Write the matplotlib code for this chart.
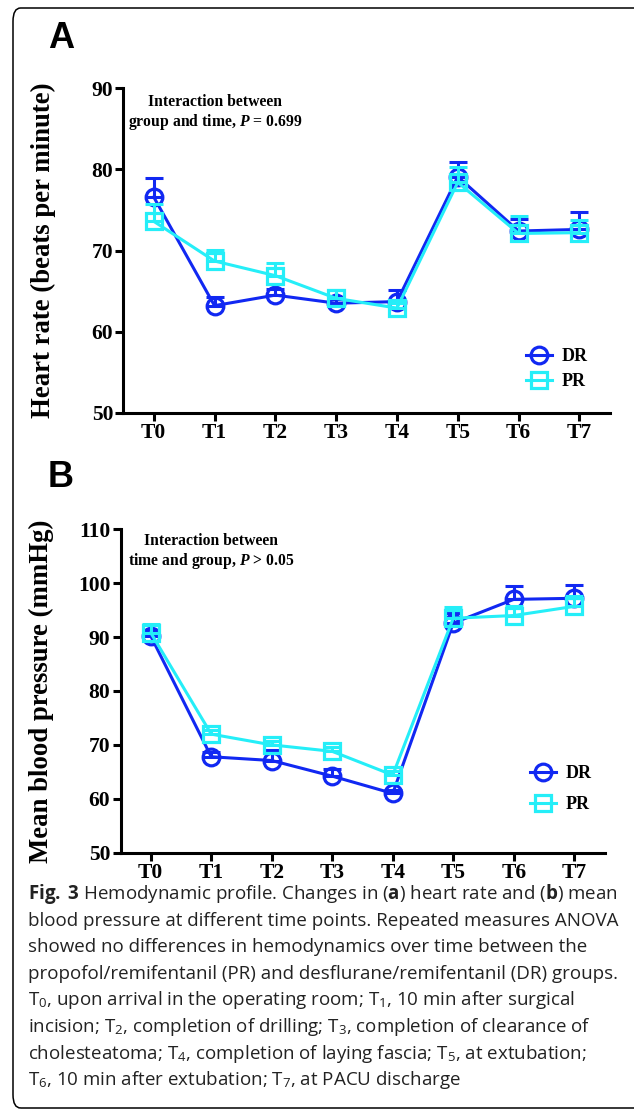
import matplotlib
matplotlib.use("Agg")
import matplotlib.pyplot as plt
from matplotlib.patches import FancyBboxPatch
import numpy as np

# ---------------- data ----------------
time_labels = ["T0", "T1", "T2", "T3", "T4", "T5", "T6", "T7"]
groups = ["DR", "PR"]

hr_dr = [76.6, 63.2, 64.5, 63.5, 63.7, 79.1, 72.4, 72.6]
hr_dr_err = [2.4, 1.1, 0.8, 0.5, 1.4, 1.8, 1.5, 2.1]
hr_pr = [73.6, 68.7, 66.9, 64.1, 62.9, 78.4, 72.1, 72.2]
hr_pr_err = [2.1, 1.4, 1.5, 1.0, 0.6, 1.9, 2.1, 1.5]

map_dr = [90.2, 67.8, 67.1, 64.2, 61.0, 92.6, 97.0, 97.2]
map_dr_err = [1.2, 0.8, 1.9, 1.4, 0.6, 1.8, 2.4, 2.5]
map_pr = [90.8, 72.0, 70.0, 68.8, 64.4, 93.5, 94.0, 95.7]
map_pr_err = [1.6, 0.8, 0.8, 0.8, 0.8, 2.1, 1.8, 2.0]

hr_ticks = [50, 60, 70, 80, 90]
map_ticks = [50, 60, 70, 80, 90, 100, 110]

caption_lines = [
    r"$\mathbf{Fig.\ 3}$ Hemodynamic profile. Changes in ($\mathbf{a}$) heart rate and ($\mathbf{b}$) mean",
    "blood pressure at different time points. Repeated measures ANOVA",
    "showed no differences in hemodynamics over time between the",
    "propofol/remifentanil (PR) and desflurane/remifentanil (DR) groups.",
    r"T$_0$, upon arrival in the operating room; T$_1$, 10 min after surgical",
    r"incision; T$_2$, completion of drilling; T$_3$, completion of clearance of",
    r"cholesteatoma; T$_4$, completion of laying fascia; T$_5$, at extubation;",
    r"T$_6$, 10 min after extubation; T$_7$, at PACU discharge",
]

# ---------------- style ----------------
plt.rcParams["mathtext.fontset"] = "custom"
plt.rcParams["mathtext.rm"] = "Open Sans"
plt.rcParams["mathtext.bf"] = "Open Sans:bold"
plt.rcParams["mathtext.it"] = "Liberation Serif:italic:bold"

C_DR = "#1128F2"
C_PR = "#25EEF8"
SERIF = "Liberation Serif"

W, H = 634, 1113
fig = plt.figure(figsize=(W / 100, H / 100), dpi=100)


def px_axes(x0, y_top, x1, y_bot):
    return fig.add_axes([x0 / W, 1 - y_bot / H, (x1 - x0) / W, (y_bot - y_top) / H])


def draw_panel(ax, dr, dr_err, pr, pr_err, ylim, yticks, ylabel, ylabel_x,
               note1, note2, leg_anchor, leg_spacing):
    x = np.arange(len(time_labels))
    z = np.zeros(len(x))
    ax.errorbar(x, dr, yerr=[z, dr_err], fmt="none", ecolor=C_DR, elinewidth=2.2,
                capsize=6.5, capthick=2.2, zorder=2)
    l1, = ax.plot(x, dr, color=C_DR, lw=2.2, marker="o", ms=12, mew=2.3,
                  mfc="none", mec=C_DR, zorder=3, label=groups[0])
    ax.errorbar(x, pr, yerr=[z, pr_err], fmt="none", ecolor=C_PR, elinewidth=2.2,
                capsize=6.5, capthick=2.2, zorder=4)
    l2, = ax.plot(x, pr, color=C_PR, lw=2.2, marker="s", ms=11.5, mew=2.3,
                  mfc="none", mec=C_PR, zorder=5, label=groups[1])
    ax.set_xlim(-0.5, len(x) - 0.5)
    ax.set_ylim(*ylim)
    ax.set_xticks(x)
    ax.set_xticklabels(time_labels)
    ax.set_yticks(yticks)
    for s in ["top", "right"]:
        ax.spines[s].set_visible(False)
    for s in ["left", "bottom"]:
        ax.spines[s].set_linewidth(2.2)
    ax.tick_params(width=2.2, length=5.8, direction="out", pad=1.5)
    for lab in ax.get_xticklabels() + ax.get_yticklabels():
        lab.set_fontfamily(SERIF)
        lab.set_fontweight("bold")
        lab.set_fontsize(15.5)
    ax.set_ylabel(ylabel, fontfamily=SERIF, fontweight="bold", fontsize=19.3)
    ax.yaxis.set_label_coords(ylabel_x, 0.5)
    ax.text(note1[0], note1[1], note1[2], transform=ax.transAxes, ha="center",
            va="center", fontfamily=SERIF, fontweight="bold", fontsize=11.3)
    ax.text(note2[0], note2[1], note2[2], transform=ax.transAxes, ha="center",
            va="center", fontfamily=SERIF, fontweight="bold", fontsize=11.3)
    ax.legend(handles=[l1, l2], loc="upper left", frameon=False,
              bbox_to_anchor=(leg_anchor[0] / W, 1 - leg_anchor[1] / H),
              bbox_transform=fig.transFigure, borderpad=0, borderaxespad=0,
              handlelength=1.45, handletextpad=0.55, labelspacing=leg_spacing,
              prop={"family": SERIF, "weight": "bold", "size": 13})
    return ax


# Panel A
axA = px_axes(123.3, 88.3, 609.8, 412.7)
yA = lambda py: 1 - (py - 88.3) / (412.7 - 88.3)
xA = lambda px: (px - 123.3) / (609.8 - 123.3)
draw_panel(axA, hr_dr, hr_dr_err, hr_pr, hr_pr_err, (50, 90), hr_ticks,
           "Heart rate (beats per minute)", -0.138,
           (xA(215), yA(101.7), "Interaction between"),
           (xA(215.6), yA(121.7), r"group and time, $P$ = 0.699"),
           (526, 348), 0.47)

# Panel B
axB = px_axes(120.5, 529.3, 604.5, 852.7)
yB = lambda py: 1 - (py - 529.3) / (852.7 - 529.3)
xB = lambda px: (px - 120.5) / (604.5 - 120.5)
draw_panel(axB, map_dr, map_dr_err, map_pr, map_pr_err, (50, 110), map_ticks,
           "Mean blood pressure (mmHg)", -0.137,
           (xB(211), yB(541), "Interaction between"),
           (xB(211), yB(561), r"time and group, $P$ > 0.05"),
           (530, 765), 0.8)

# Panel letters
fig.text(61 / W, 1 - 39 / H, "A", ha="center", va="center",
         fontfamily="Liberation Sans", fontweight="bold", fontsize=26)
fig.text(61 / W, 1 - 478 / H, "B", ha="center", va="center",
         fontfamily="Liberation Sans", fontweight="bold", fontsize=26)

# Caption
y0 = 894
for i, line in enumerate(caption_lines):
    fig.text(28 / W, 1 - (y0 + i * 26.6) / H, line, ha="left", va="center",
             fontfamily="Open Sans", fontsize=13.5, color="#222222")

# Rounded frame
frame = FancyBboxPatch((13 / W, 1 - 1108 / H), (660 - 13) / W, (1108 - 8) / H,
                       boxstyle="round,pad=0,rounding_size=0.012",
                       transform=fig.transFigure, fill=False, ec="black",
                       lw=1.1, clip_on=False)
fig.patches.append(frame)

fig.savefig("out.png", dpi=100)
